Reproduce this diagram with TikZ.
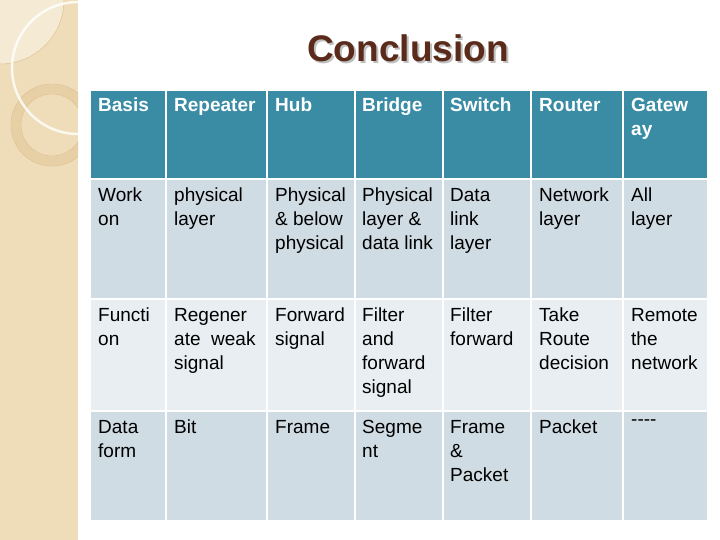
\documentclass[tikz,border=0pt]{standalone}
\usepackage{fontspec}
\setmainfont{Liberation Sans}
\definecolor{hdr}{HTML}{3A8CA5}
\definecolor{rowa}{HTML}{CFDCE3}
\definecolor{rowb}{HTML}{E8EEF1}
\definecolor{beige}{HTML}{EEDDB8}
\definecolor{ttl}{HTML}{5A2A1A}
\tikzset{x=1pt,y=-1pt,
 cell/.style={anchor=north west,inner sep=0pt,align=left,font=\fontsize{19}{24}\selectfont},
 hcell/.style={cell,text=white,font=\bfseries\fontsize{19}{24}\selectfont}}
\begin{document}
\begin{tikzpicture}
\useasboundingbox (0,0) rectangle (720,540);
\fill[white] (0,0) rectangle (720,540);
\fill[beige] (0,0) rectangle (78,540);
\begin{scope}
\clip (0,0) rectangle (78,540);
\fill[beige!60!white] (0,0) circle[radius=64];
\draw[beige!70!brown,line width=0.5pt] (0,0) circle[radius=64];
\draw[beige!85!brown,line width=9pt] (52,125) circle[radius=36];
\draw[beige!60!brown,line width=0.4pt] (52,125) circle[radius=41];
\draw[beige!60!brown,line width=0.4pt] (52,125) circle[radius=31];
\draw[white,line width=2.5pt,opacity=0.8] (78,68) circle[radius=66];
\end{scope}
\node[font=\bfseries\fontsize{37}{40}\selectfont,text=gray!50] (tsh) at (410,50) {Conclusion};
\node[font=\bfseries\fontsize{37}{40}\selectfont,text=ttl] (title) at (408,48) {Conclusion};
\foreach \y/\yy/\c in {91/178/hdr,180/298/rowa,300/410/rowb,412/520/rowa}{
 \foreach \xa/\xb in {91/165,167/266,268/354,356/442,444/530,532/622,624/707}{
  \fill[\c] (\xa,\y) rectangle (\xb,\yy);}}
\foreach \x/\t [count=\i] in {98/Basis,174/Repeater,275/Hub,362/Bridge,450/Switch,539/Router,631/{Gatew\\ay}}
 \node[hcell] (h\i) at (\x,98) {\t};
\foreach \x/\t [count=\i] in {98/{Work\\on},174/{physical\\layer},275/{Physical\\\& below\\physical},362/{Physical\\layer \&\\data link},450/{Data\\link\\layer},539/{Network\\layer},631/{All\\layer}}
 \node[cell] (a\i) at (\x,188) {\t};
\foreach \x/\t [count=\i] in {98/{Functi\\on},174/{Regener\\ate~~weak\\signal},275/{Forward\\signal},362/{Filter\\and\\forward\\signal},450/{Filter\\forward},539/{Take\\Route\\decision},631/{Remote\\the\\network}}
 \node[cell] (b\i) at (\x,308) {\t};
\foreach \x/\t [count=\i] in {98/{Data\\form},174/Bit,275/Frame,362/{Segme\\nt},450/{Frame\\\&\\Packet},539/Packet,631/{{-}{-}{-}{-}}}
 \node[cell] (c\i) at (\x,420) {\t};
\end{tikzpicture}
\end{document}
